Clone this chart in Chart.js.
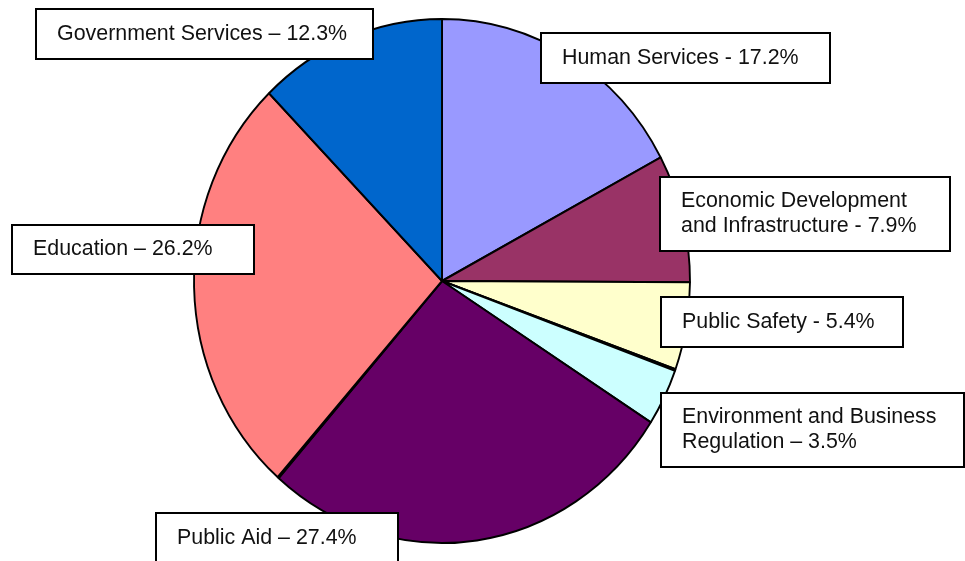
<!DOCTYPE html>
<html>
<head>
<meta charset="utf-8">
<title>Budget by Program Area</title>
<script src="https://cdn.jsdelivr.net/npm/chart.js@4.4.1/dist/chart.umd.min.js"></script>
<style>
  html, body { margin: 0; padding: 0; background: #fff; }
  #wrap { position: relative; width: 965px; height: 561px; }
</style>
</head>
<body>
<div id="wrap"><canvas id="pie" width="965" height="561"></canvas></div>
<script>
  "use strict";

  /* ── Data ── */
  // clockwise from 12 o'clock; empty names are the two hairline slivers
  var categories = [
    "Human Services",
    "Economic Development\nand Infrastructure",
    "Public Safety",
    "",
    "Environment and Business\nRegulation",
    "Public Aid",
    "",
    "Education",
    "Government Services"
  ];
  var shares = [17.2, 7.9, 5.4, 0.1, 3.5, 27.4, 0.1, 26.2, 12.3];
  var dashes = ["-", "-", "-", "", "\u2013", "\u2013", "", "\u2013", "\u2013"];
  var colors = ["#9999FF", "#993366", "#FFFFCC", "#FFFFFF", "#CCFFFF", "#660066", "#FFFFFF", "#FF8080", "#0066CC"];

  /* ── Label box placement ── */
  var boxes = [
    { x: 541, y: 33, w: 289, h: 50 },
    { x: 660, y: 177, w: 290, h: 74 },
    { x: 661, y: 297, w: 242, h: 50 },
    null,
    { x: 661, y: 393, w: 303, h: 74 },
    { x: 156, y: 513, w: 242, h: 50 },
    null,
    { x: 12, y: 225, w: 242, h: 49 },
    { x: 36, y: 9, w: 337, h: 50 }
  ];

  function labelLines(i) {
    var lines = categories[i].split("\n");
    lines[lines.length - 1] += " " + dashes[i] + " " + shares[i].toFixed(1) + "%";
    return lines;
  }

  // pie is drawn slightly narrower than tall
  var squeeze = 248 / 262;

  var ovalPlugin = {
    id: "oval",
    beforeDatasetsDraw: function (chart) {
      var ctx = chart.ctx;
      var a = chart.chartArea;
      var cx = (a.left + a.right) / 2;
      ctx.save();
      ctx.translate(cx, 0);
      ctx.scale(squeeze, 1);
      ctx.translate(-cx, 0);
    },
    afterDatasetsDraw: function (chart) {
      chart.ctx.restore();
    }
  };

  var boxLabelPlugin = {
    id: "boxLabels",
    afterDraw: function (chart) {
      var ctx = chart.ctx;
      ctx.save();
      ctx.font = "21.4px 'Liberation Sans', Arial, sans-serif";
      ctx.textBaseline = "middle";
      ctx.textAlign = "left";
      boxes.forEach(function (b, i) {
        if (!b) return;
        ctx.fillStyle = "#fff";
        ctx.fillRect(b.x, b.y, b.w, b.h);
        ctx.strokeStyle = "#000";
        ctx.lineWidth = 2;
        ctx.strokeRect(b.x, b.y, b.w, b.h);
        var lines = labelLines(i);
        var mid = b.y + b.h / 2;
        ctx.fillStyle = "#111";
        lines.forEach(function (t, k) {
          ctx.fillText(t, b.x + 21, mid + (k - (lines.length - 1) / 2) * 25);
        });
      });
      ctx.restore();
    }
  };

  new Chart(document.getElementById("pie").getContext("2d"), {
    type: "pie",
    data: {
      labels: categories,
      datasets: [{
        data: shares,
        backgroundColor: colors,
        borderColor: "#000",
        borderWidth: 2,
        radius: 262
      }]
    },
    options: {
      responsive: false,
      animation: false,
      events: [],
      layout: { padding: { left: 180, right: 261, top: 19, bottom: 18 } },
      plugins: {
        legend: { display: false },
        tooltip: { enabled: false }
      }
    },
    plugins: [ovalPlugin, boxLabelPlugin]
  });
</script>
</body>
</html>
